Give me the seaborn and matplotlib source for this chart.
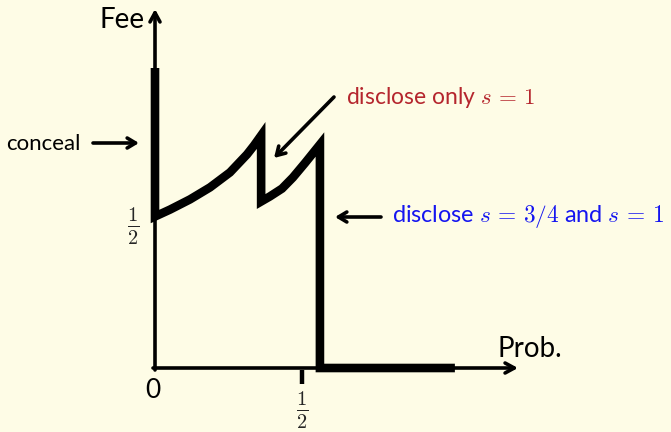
import matplotlib
matplotlib.use("Agg")
import matplotlib.pyplot as plt
import seaborn as sns
import pandas as pd

# Data
prob = [0.0, 0.0, 0.051, 0.119, 0.187, 0.255, 0.313, 0.337, 0.361,
        0.361, 0.391, 0.432, 0.469, 0.51, 0.561,
        0.561, 1.02]
fee = [1.0, 0.505, 0.528, 0.562, 0.602, 0.652, 0.712, 0.742, 0.775,
       0.555, 0.572, 0.598, 0.635, 0.683, 0.745,
       0.0, 0.0]
x_ticks = [0.5]
x_tick_labels = [r"$\frac{1}{2}$"]
y_ticks = [0.5]
y_tick_labels = [r"$\frac{1}{2}$"]
labels = ["conceal", r"disclose only $s\,=\,1$", r"disclose $s\,=\,3/4$ and $s\,=\,1$"]
label_colors = ["black", "#B5262E", "#1515F0"]

sns.set_theme(style="white")
plt.rcParams["font.family"] = ["Lato", "DejaVu Sans"]
plt.rcParams["mathtext.fontset"] = "cm"

BG = "#FEFCE6"
W, H = 671, 432
fig = plt.figure(figsize=(W / 100, H / 100), dpi=100, facecolor=BG)
ax = fig.add_axes([0, 0, 1, 1])
ax.set_facecolor(BG)

X0, Y0, SX, SY = 155, 368, 294, 300
ax.set_xlim((0 - X0) / SX, (W - X0) / SX)
ax.set_ylim((Y0 - H) / SY, Y0 / SY)
ax.axis("off")


def P(px, py):
    return ((px - X0) / SX, (Y0 - py) / SY)


# axes with arrows
aprops = dict(arrowstyle="->,head_length=0.55,head_width=0.3", lw=2.6, color="black",
              shrinkA=0, shrinkB=0)
ax.annotate("", xy=P(518, 368), xytext=P(153, 368), arrowprops=aprops)
ax.annotate("", xy=P(155, 9), xytext=P(155, 370), arrowprops=aprops)

df = pd.DataFrame({"prob": prob, "fee": fee})
sns.lineplot(data=df, x="prob", y="fee", sort=False, estimator=None, errorbar=None,
             color="black", lw=6.2, ax=ax, solid_joinstyle="miter",
             solid_capstyle="butt")

# ticks
for t, lab in zip(x_ticks, x_tick_labels):
    ax.plot([t, t], [P(0, 370)[1], P(0, 384)[1]], color="black", lw=3.2,
            solid_capstyle="butt")
    ax.text(t, P(0, 410)[1], lab, ha="center", va="center", fontsize=21)
for t, lab in zip(y_ticks, y_tick_labels):
    ax.text(P(133, 0)[0], P(0, 226)[1], lab, ha="center", va="center", fontsize=21)

ax.text(*P(153, 391), "0", ha="center", va="center", fontsize=19, color="black")
ax.text(*P(145, 20), "Fee", ha="right", va="center", fontsize=20, color="black")
ax.text(*P(497, 349), "Prob.", ha="left", va="center", fontsize=20, color="black")

# annotations
ap2 = dict(arrowstyle="->,head_length=0.5,head_width=0.3", lw=2.6, color="black",
           shrinkA=0, shrinkB=0)
ax.text(*P(6, 144), labels[0], ha="left", va="center", fontsize=16, color=label_colors[0])
ax.annotate("", xy=P(139, 143), xytext=P(93, 143), arrowprops=ap2)

ax.text(*P(346, 97), labels[1], ha="left", va="center", fontsize=16.5, color=label_colors[1])
ax.annotate("", xy=P(274, 158), xytext=P(334, 97), arrowprops=ap2)

ax.text(*P(392, 217), labels[2], ha="left", va="center", fontsize=16.8, color=label_colors[2])
ax.annotate("", xy=P(335, 217), xytext=P(381, 217), arrowprops=ap2)

fig.savefig("out.png", dpi=100, facecolor=BG)
